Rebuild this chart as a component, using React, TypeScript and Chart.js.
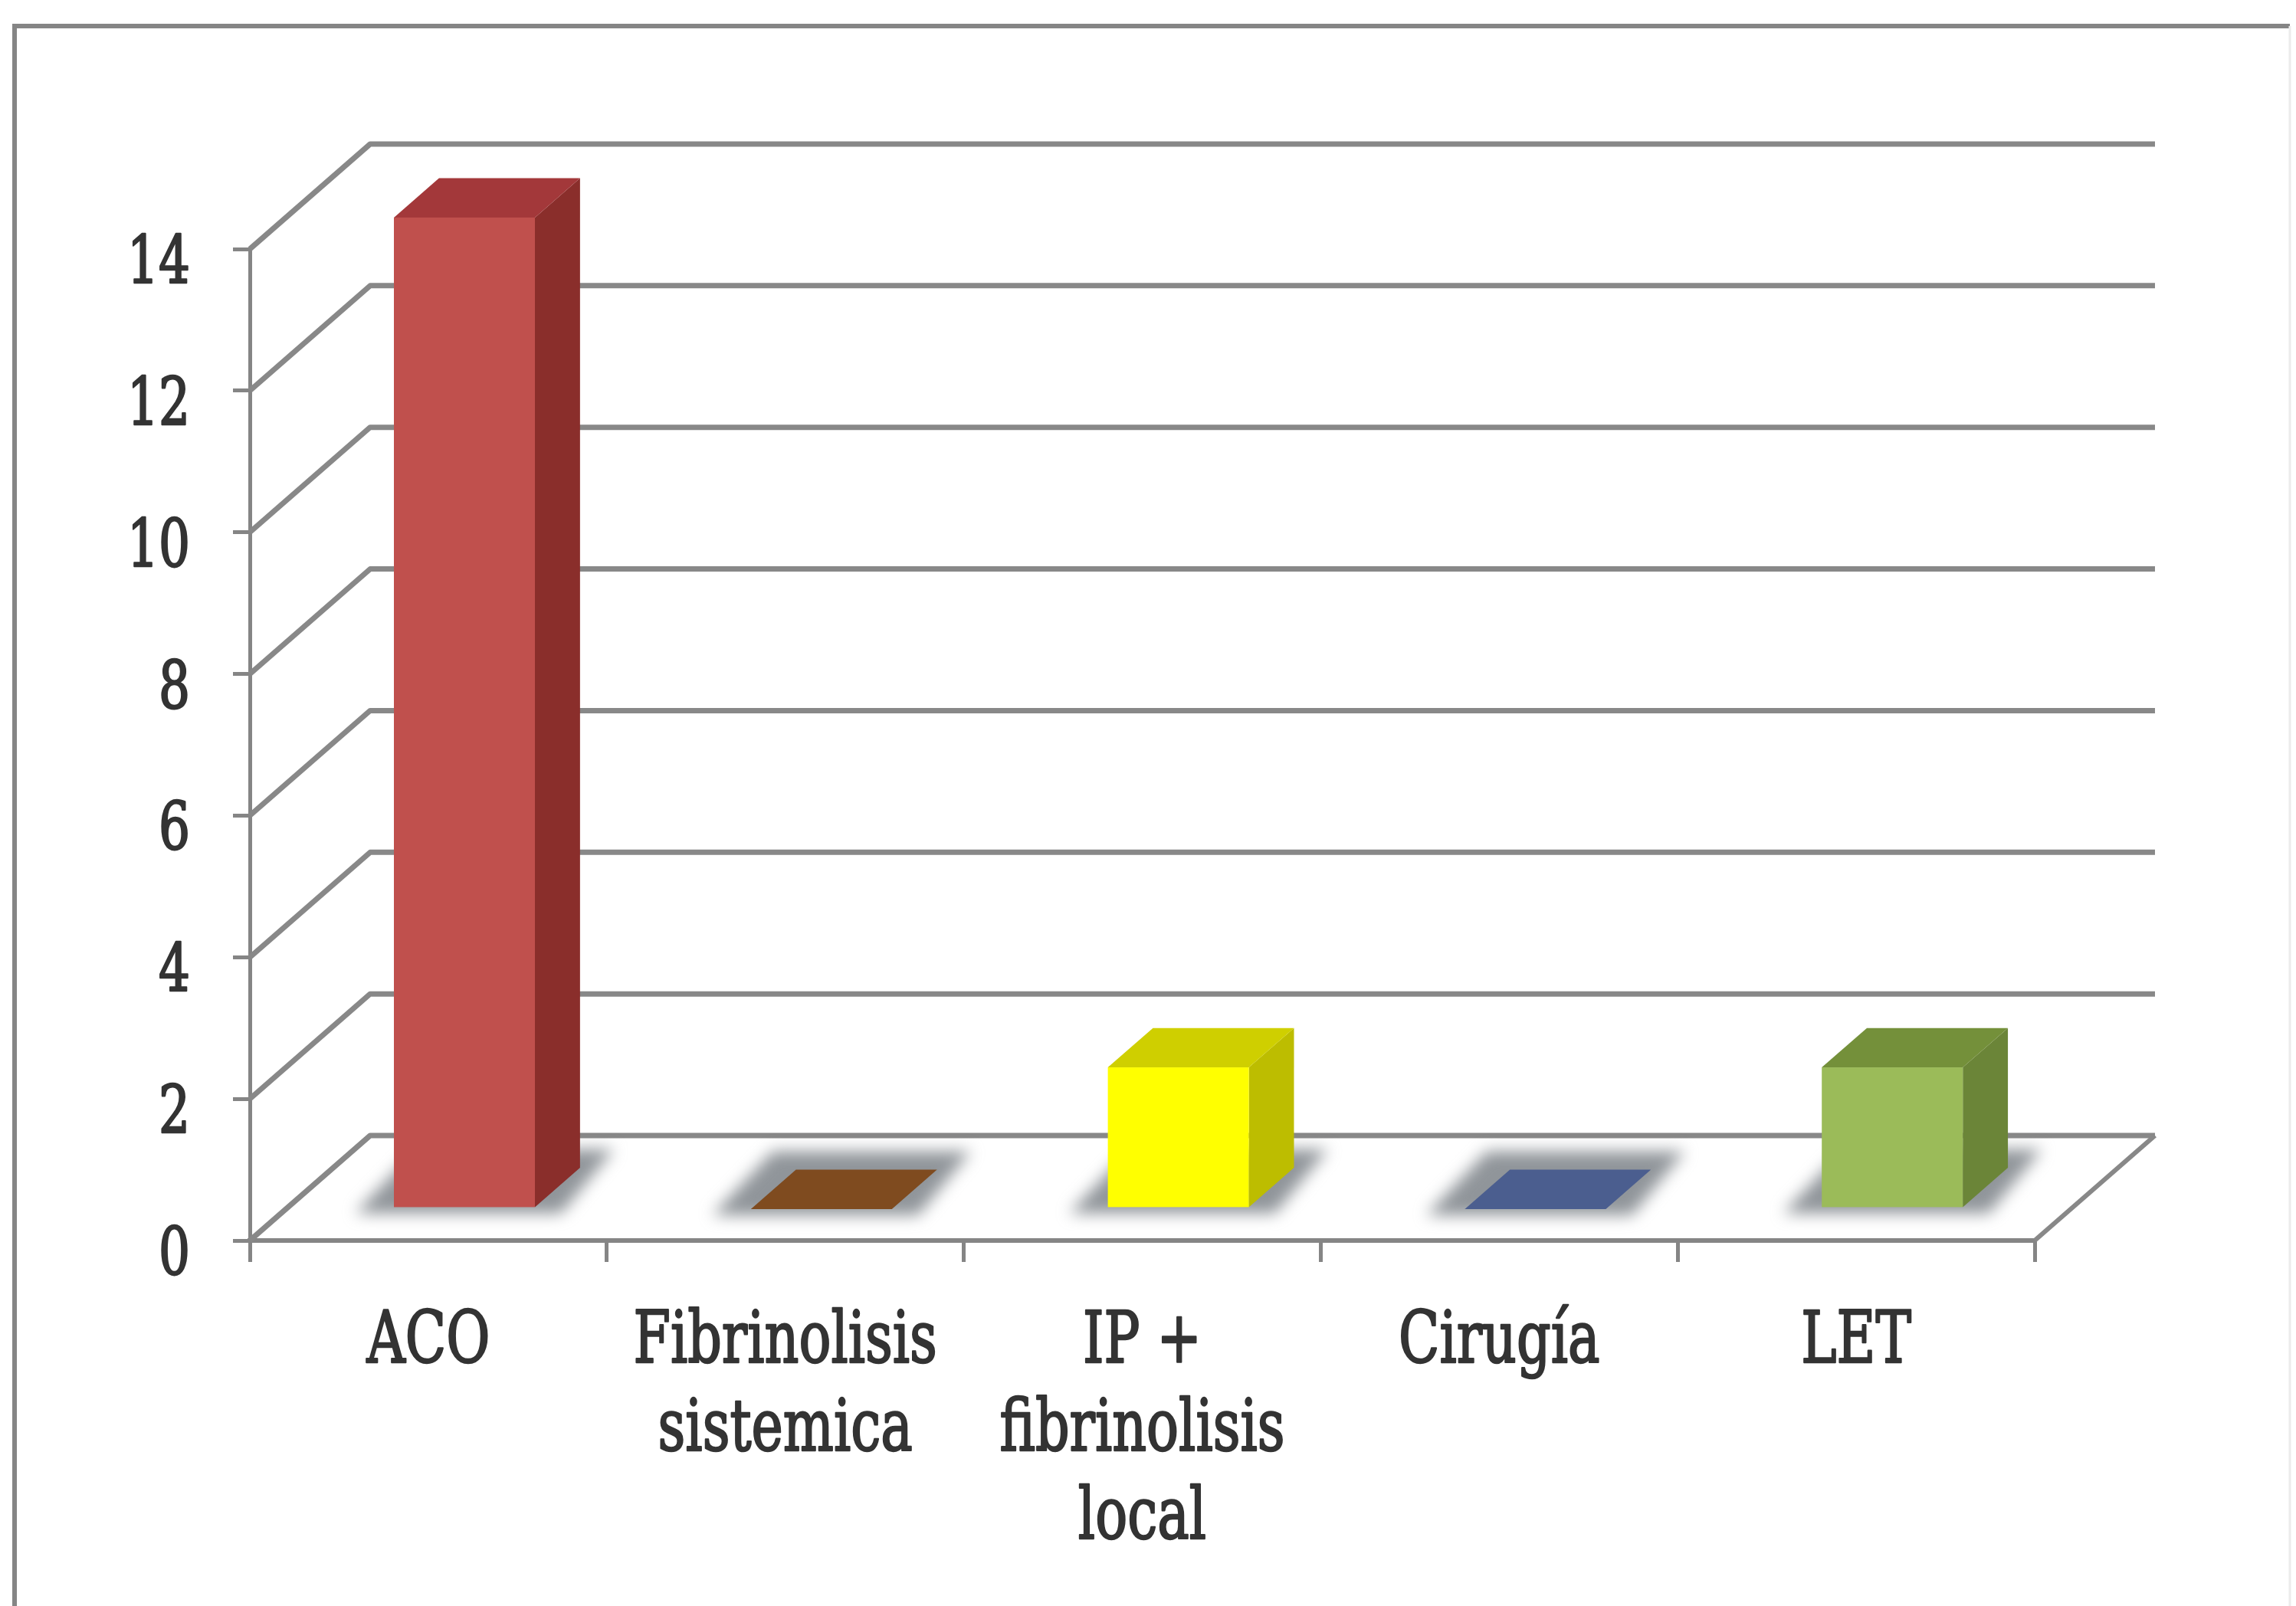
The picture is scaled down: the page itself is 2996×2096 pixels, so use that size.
import React, { useEffect, useRef } from "react";
import { Chart, registerables } from "chart.js";

Chart.register(...registerables);

const W = 2996;
const H = 2096;

// Treatment categories (multi-line labels) and patient counts
const categories: string[][] = [
  ["ACO"],
  ["Fibrinolisis", "sistemica"],
  ["IP +", "fibrinolisis", "local"],
  ["Cirugía"],
  ["LET"],
];
const values = [14, 0, 2, 0, 2];
const yMin = 0;
const yMax = 14;
const yStep = 2;

// Per-bar face colours: front, side, top
const frontColors = ["#C0504D", "#7F4B1F", "#FFFF00", "#4B5E8F", "#9BBB59"];
const sideColors = ["#8A2E2B", "#5E3615", "#BDBD00", "#37466B", "#6B8538"];
const topColors = ["#A3383A", "#7F4B1F", "#CFCF00", "#4B5E8F", "#74903A"];

// 3D projection of the depth axis and bar placement inside it
const DEPTH = { x: 157, y: -137 };
const BAR_FRONT = 0.3;
const BAR_DEPTH = 0.375;

const AXIS_GRAY = "#858585";
const TEXT_COLOR = "#333333";
const FONT = "'DejaVu Serif', 'Liberation Serif', serif";
const SQUEEZE = 0.75;

type Pt = [number, number];

function fillPoly(ctx: CanvasRenderingContext2D, pts: Pt[], color: string) {
  ctx.beginPath();
  ctx.moveTo(pts[0][0], pts[0][1]);
  for (let i = 1; i < pts.length; i++) ctx.lineTo(pts[i][0], pts[i][1]);
  ctx.closePath();
  ctx.fillStyle = color;
  ctx.fill();
}

function squeezedText(ctx: CanvasRenderingContext2D, text: string, x: number, y: number) {
  ctx.save();
  ctx.translate(x, y);
  ctx.scale(SQUEEZE, 1);
  ctx.strokeText(text, 0, 0);
  ctx.fillText(text, 0, 0);
  ctx.restore();
}

const depthPlugin = {
  id: "depth3d",
  beforeDraw(chart: any) {
    const ctx: CanvasRenderingContext2D = chart.ctx;
    ctx.save();
    ctx.fillStyle = "#ffffff";
    ctx.fillRect(0, 0, W, H);
    // outer frame
    ctx.strokeStyle = AXIS_GRAY;
    ctx.lineWidth = 6;
    ctx.beginPath();
    ctx.moveTo(19, H);
    ctx.lineTo(19, 34);
    ctx.lineTo(2988, 34);
    ctx.stroke();
    ctx.strokeStyle = "#ececec";
    ctx.lineWidth = 3;
    ctx.beginPath();
    ctx.moveTo(2988, 34);
    ctx.lineTo(2988, H);
    ctx.stroke();
    ctx.restore();
  },
  beforeDatasetsDraw(chart: any) {
    const ctx: CanvasRenderingContext2D = chart.ctx;
    const a = chart.chartArea;
    const ys = chart.scales.y;
    ctx.save();
    ctx.strokeStyle = "#888888";
    ctx.lineWidth = 7;
    ctx.lineJoin = "round";
    // side wall diagonals + back wall gridlines
    for (const t of ys.ticks) {
      const py = ys.getPixelForValue(t.value);
      ctx.beginPath();
      ctx.moveTo(a.left, py);
      ctx.lineTo(a.left + DEPTH.x, py + DEPTH.y);
      ctx.lineTo(a.right + DEPTH.x, py + DEPTH.y);
      ctx.stroke();
    }
    // right edge of the floor
    const p0 = ys.getPixelForValue(0);
    ctx.lineWidth = 6;
    ctx.beginPath();
    ctx.moveTo(a.right, p0);
    ctx.lineTo(a.right + DEPTH.x, p0 + DEPTH.y);
    ctx.stroke();

    const meta = chart.getDatasetMeta(0);
    const fx = BAR_FRONT * DEPTH.x;
    const fy = BAR_FRONT * DEPTH.y;
    const dx = BAR_DEPTH * DEPTH.x;
    const dy = BAR_DEPTH * DEPTH.y;

    // floor shadows
    meta.data.forEach((bar: any) => {
      const { x, base, width } = bar.getProps(["x", "base", "width"], true);
      const L = x - width / 2 + fx;
      const R = x + width / 2 + fx;
      const B = base + fy;
      ctx.save();
      ctx.filter = "blur(10px)";
      fillPoly(
        ctx,
        [
          [L - 50, B + 8],
          [R + 34, B + 8],
          [R + dx + 44, B + dy - 24],
          [L + dx - 30, B + dy - 24],
        ],
        "rgba(125,130,136,0.85)"
      );
      ctx.restore();
    });

    // bar boxes
    meta.data.forEach((bar: any, i: number) => {
      const { x, y, base, width } = bar.getProps(["x", "y", "base", "width"], true);
      const L = x - width / 2 + fx;
      const R = x + width / 2 + fx;
      const T = y + fy;
      const B = base + fy;
      if (Math.abs(B - T) < 0.5) {
        fillPoly(ctx, [[L, B], [R, B], [R + dx, B + dy], [L + dx, B + dy]], frontColors[i]);
        return;
      }
      fillPoly(ctx, [[R, T], [R + dx, T + dy], [R + dx, B + dy], [R, B]], sideColors[i]);
      fillPoly(ctx, [[L, T], [R, T], [R + dx, T + dy], [L + dx, T + dy]], topColors[i]);
      ctx.fillStyle = frontColors[i];
      ctx.fillRect(L, T, R - L, B - T);
    });
    ctx.restore();
  },
  afterDraw(chart: any) {
    const ctx: CanvasRenderingContext2D = chart.ctx;
    const a = chart.chartArea;
    const ys = chart.scales.y;
    const xs = chart.scales.x;
    ctx.save();
    ctx.fillStyle = TEXT_COLOR;
    ctx.strokeStyle = TEXT_COLOR;
    ctx.lineWidth = 2.5;
    ctx.lineJoin = "round";

    // value axis labels
    ctx.font = `86px ${FONT}`;
    ctx.textAlign = "right";
    ctx.textBaseline = "alphabetic";
    for (const t of ys.ticks) {
      const py = ys.getPixelForValue(t.value);
      squeezedText(ctx, String(t.value), a.left - 78, py + 44);
    }

    // category labels
    ctx.font = `93px ${FONT}`;
    ctx.textAlign = "center";
    const labels = chart.data.labels as string[][];
    labels.forEach((lines, i) => {
      const px = xs.getPixelForValue(i);
      lines.forEach((ln, j) => {
        squeezedText(ctx, ln, px, a.bottom + 159 + j * 115);
      });
    });
    ctx.restore();
  },
};

export default function App() {
  const canvasRef = useRef<HTMLCanvasElement | null>(null);

  useEffect(() => {
    const canvas = canvasRef.current;
    if (!canvas) return;
    const chart = new Chart(canvas, {
      type: "bar",
      data: {
        labels: categories,
        datasets: [
          {
            data: values,
            backgroundColor: "rgba(0,0,0,0)",
            borderWidth: 0,
            barPercentage: 0.395,
            categoryPercentage: 1,
          },
        ],
      },
      options: {
        responsive: false,
        animation: false,
        devicePixelRatio: 1,
        layout: { padding: { left: 0, top: 325, right: 341, bottom: 0 } },
        plugins: {
          legend: { display: false },
          tooltip: { enabled: false },
        },
        scales: {
          x: {
            offset: true,
            grid: {
              offset: true,
              drawOnChartArea: false,
              color: AXIS_GRAY,
              lineWidth: 5,
              tickLength: 28,
            },
            border: { color: AXIS_GRAY, width: 6 },
            ticks: { display: false },
            afterFit: (s: any) => {
              s.height = 477;
            },
          },
          y: {
            min: yMin,
            max: yMax,
            ticks: { stepSize: yStep, display: false },
            grid: {
              drawOnChartArea: false,
              color: AXIS_GRAY,
              lineWidth: 5,
              tickLength: 22,
            },
            border: { color: AXIS_GRAY, width: 5 },
            afterFit: (s: any) => {
              s.width = 326;
            },
          },
        },
      },
      plugins: [depthPlugin],
    } as any);
    return () => chart.destroy();
  }, []);

  return (
    <div style={{ position: "fixed", left: 0, top: 0, width: W, height: H, background: "#fff" }}>
      <canvas ref={canvasRef} width={W} height={H} style={{ display: "block", width: W, height: H }} />
    </div>
  );
}
